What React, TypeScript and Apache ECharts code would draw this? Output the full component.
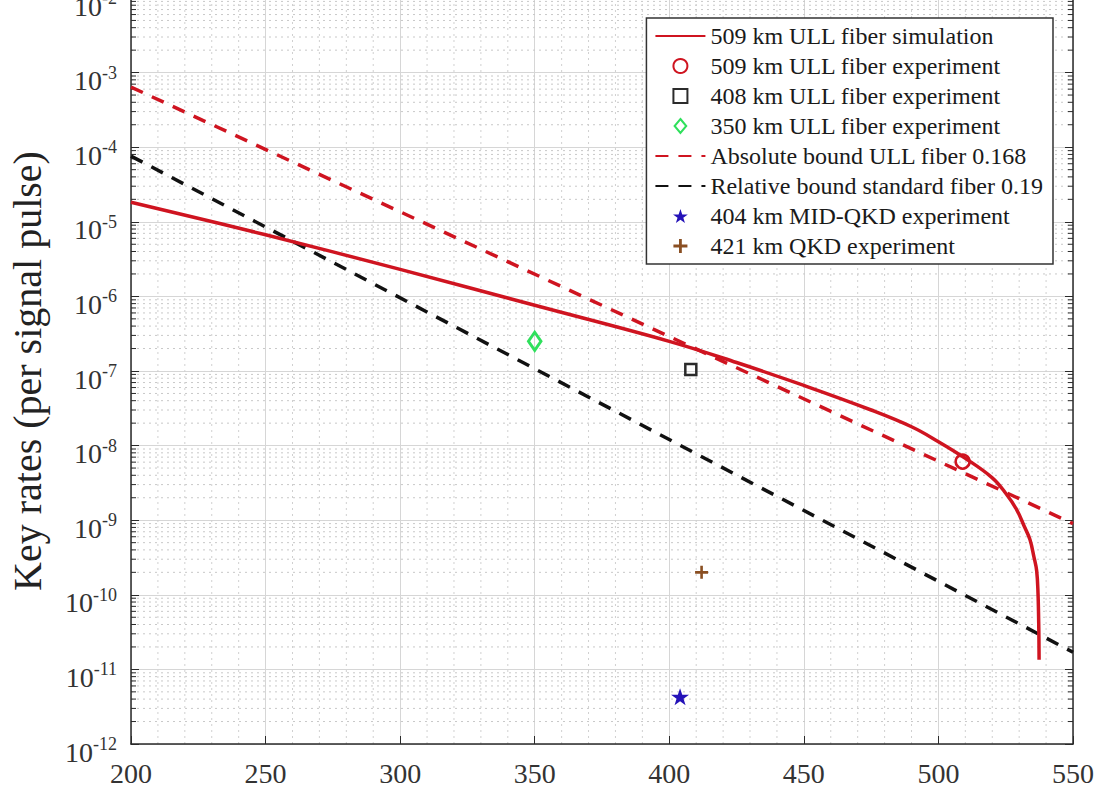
import React, { useEffect, useRef } from 'react';
import * as echarts from 'echarts';

// ---- data ----
const simDistance = [200, 250, 300, 350, 400, 425, 450, 475, 490, 500, 510, 520, 525, 529, 532, 534, 535.5, 536.5, 537, 537.3, 537.4];
const simRate = [1.83e-5, 6.7e-6, 2.3e-6, 7.6e-7, 2.5e-7, 1.3e-7, 6.4e-8, 3.0e-8, 1.79e-8, 1.13e-8, 6.75e-9, 3.7e-9, 2.3e-9, 1.4e-9, 8.1e-10, 5.5e-10, 3.2e-10, 2.1e-10, 1.05e-10, 3.4e-11, 1.35e-11];

const absBoundDistance = [200, 550];
const absBoundRate = [6.4e-4, 9.0e-10];

const relBoundDistance = [200, 550];
const relBoundRate = [7.6e-5, 1.7e-11];

const exp509 = [[509, 6.1e-9]];
const exp408 = [[408, 1.05e-7]];
const exp350 = [[350, 2.5e-7]];
const midQkd404 = [[404, 4.3e-12]];
const qkd421 = [[412, 2.0e-10]];

const legendNames = [
  '509 km ULL fiber simulation',
  '509 km ULL fiber experiment',
  '408 km ULL fiber experiment',
  '350 km ULL fiber experiment',
  'Absolute bound ULL fiber 0.168',
  'Relative bound standard fiber 0.19',
  '404 km MID-QKD experiment',
  '421 km QKD experiment',
];

const X_MIN = 200;
const X_MAX = 550;
const Y_MIN = 1e-12;
const Y_MAX = 1e-2;

const FONT = '"Liberation Serif", "Times New Roman", serif';

const STAR = 'path://M50,0 L61.8,35.1 L98.1,35.1 L68.8,56.7 L79.4,91 L50,70 L20.6,91 L31.2,56.7 L1.9,35.1 L38.2,35.1 Z';
const PLUS = 'path://M4,0H6V4H10V6H6V10H4V6H0V4H4Z';
const SQUARE = 'path://M0,0H10V10H0Z';
const DIAMOND = 'path://M5,0L10,6L5,12L0,6Z';

// minor grid positions (2..9 x each decade, every 10 km)
const yMinor: number[][] = [];
for (let e = -12; e < -2; e++) {
  for (let k = 2; k <= 9; k++) yMinor.push([X_MIN, k * Math.pow(10, e)]);
}
const xMinor: number[][] = [];
for (let d = X_MIN + 10; d < X_MAX; d += 10) {
  if (d % 50 !== 0) xMinor.push([d, Y_MIN]);
}

export default function App() {
  const ref = useRef<HTMLDivElement>(null);
  useEffect(() => {
    if (!ref.current) return;
    const chart = echarts.init(ref.current, undefined, { renderer: 'svg' });
    const red = '#cf1420';
    const zip = (a: number[], b: number[]) => a.map((v, i) => [v, b[i]]);
    const lineLegend = (name: string) => ({ name, itemStyle: { opacity: 0 } });
    chart.setOption({
      animation: false,
      backgroundColor: '#ffffff',
      grid: { left: 131, right: 31, top: -2, bottom: 49, containLabel: false, outerBoundsMode: 'none' },
      legend: {
        data: [
          lineLegend(legendNames[0]),
          { name: legendNames[1] },
          { name: legendNames[2] },
          { name: legendNames[3] },
          lineLegend(legendNames[4]),
          lineLegend(legendNames[5]),
          { name: legendNames[6] },
          { name: legendNames[7] },
        ],
        orient: 'vertical',
        right: 51,
        top: 18,
        padding: [6, 10, 6, 8],
        itemWidth: 50,
        itemHeight: 14,
        itemGap: 6,
        symbolKeepAspect: true,
        backgroundColor: '#ffffff',
        borderColor: '#333333',
        borderWidth: 1.5,
        borderRadius: 0,
        textStyle: { fontFamily: FONT, fontSize: 24, color: '#1a1a1a' },
        selectedMode: false,
      },
      xAxis: [
        {
          type: 'value',
          min: X_MIN,
          max: X_MAX,
          interval: 50,
          axisLine: { show: true, onZero: false, lineStyle: { color: '#2a2a2a', width: 1.5 } },
          axisTick: { show: true, inside: true, length: 8, lineStyle: { color: '#2a2a2a' } },
          axisLabel: { fontFamily: FONT, fontSize: 28, color: '#333', margin: 15 },
          splitLine: { show: true, lineStyle: { color: '#d6d6d6', width: 1 } },
        },
      ],
      yAxis: [
        {
          type: 'log',
          logBase: 10,
          min: Y_MIN,
          max: Y_MAX,
          splitNumber: 10,
          axisLine: { show: true, onZero: false, lineStyle: { color: '#2a2a2a', width: 1.5 } },
          axisTick: { show: true, inside: true, length: 8, lineStyle: { color: '#2a2a2a' } },
          axisLabel: {
            margin: 14,
            formatter: (v: number) => `{b|10}{s|${Math.round(Math.log10(v))}}`,
            rich: {
              b: { fontFamily: FONT, fontSize: 28, color: '#333', padding: [16, 0, 0, 0] },
              s: { fontFamily: FONT, fontSize: 18, color: '#333' },
            },
          },
          splitLine: { show: true, lineStyle: { color: '#d6d6d6', width: 1 } },
          name: 'Key rates (per signal pulse)',
          nameLocation: 'middle',
          nameRotate: 90,
          nameGap: 84,
          nameTextStyle: { fontFamily: FONT, fontSize: 40, color: '#222' },
        },
        {
          type: 'log',
          logBase: 10,
          min: Y_MIN,
          max: Y_MAX,
          splitNumber: 10,
          position: 'right',
          axisLine: { show: true, onZero: false, lineStyle: { color: '#2a2a2a', width: 1.5 } },
          axisTick: { show: true, inside: true, length: 8, lineStyle: { color: '#2a2a2a' } },
          axisLabel: { show: false },
          splitLine: { show: false },
        },
      ],
      series: [
        {
          type: 'custom',
          name: 'yMinorGrid',
          silent: true,
          z: 0,
          data: yMinor,
          renderItem: (params: any, api: any) => {
            const v = api.value(1);
            const p0 = api.coord([X_MIN, v]);
            const p1 = api.coord([X_MAX, v]);
            return {
              type: 'group',
              children: [
                { type: 'line', shape: { x1: p0[0], y1: p0[1], x2: p1[0], y2: p1[1] }, style: { stroke: '#c8c8c8', lineWidth: 1, lineDash: [2, 4] } },
                { type: 'line', shape: { x1: p0[0], y1: p0[1], x2: p0[0] + 5, y2: p0[1] }, style: { stroke: '#2a2a2a', lineWidth: 1 } },
                { type: 'line', shape: { x1: p1[0] - 5, y1: p1[1], x2: p1[0], y2: p1[1] }, style: { stroke: '#2a2a2a', lineWidth: 1 } },
              ],
            };
          },
        },
        {
          type: 'custom',
          name: 'xMinorGrid',
          silent: true,
          z: 0,
          data: xMinor,
          renderItem: (params: any, api: any) => {
            const d = api.value(0);
            const p0 = api.coord([d, Y_MIN]);
            const p1 = api.coord([d, Y_MAX]);
            return {
              type: 'line',
              shape: { x1: p0[0], y1: p0[1], x2: p1[0], y2: p1[1] },
              style: { stroke: '#d0d0d0', lineWidth: 1, lineDash: [2, 4] },
            };
          },
        },
        {
          name: legendNames[0],
          type: 'line',
          data: zip(simDistance, simRate),
          showSymbol: false,
          symbol: 'none',
          smooth: 0.4,
          lineStyle: { color: red, width: 3.5 },
          itemStyle: { color: red },
          z: 5,
        },
        {
          name: legendNames[1],
          type: 'scatter',
          data: exp509,
          symbol: 'circle',
          symbolSize: 14,
          itemStyle: { color: 'rgba(255,255,255,0)', borderColor: red, borderWidth: 2.5, opacity: 1 },
          z: 6,
        },
        {
          name: legendNames[2],
          type: 'scatter',
          data: exp408,
          symbol: SQUARE,
          symbolSize: 11,
          symbolKeepAspect: true,
          itemStyle: { color: 'rgba(255,255,255,0)', borderColor: '#2b2b2b', borderWidth: 2.5, opacity: 1 },
          z: 6,
        },
        {
          name: legendNames[3],
          type: 'scatter',
          data: exp350,
          symbol: DIAMOND,
          symbolSize: [15, 18],
          symbolKeepAspect: true,
          itemStyle: { color: 'rgba(255,255,255,0)', borderColor: '#2fe05c', borderWidth: 3, opacity: 1 },
          z: 6,
        },
        {
          name: legendNames[4],
          type: 'line',
          data: zip(absBoundDistance, absBoundRate),
          showSymbol: false,
          symbol: 'none',
          lineStyle: { color: red, width: 3.5, type: [13, 10] },
          itemStyle: { color: red },
          z: 4,
        },
        {
          name: legendNames[5],
          type: 'line',
          data: zip(relBoundDistance, relBoundRate),
          showSymbol: false,
          symbol: 'none',
          lineStyle: { color: '#111111', width: 3.5, type: [13, 10] },
          itemStyle: { color: '#111111' },
          z: 4,
        },
        {
          name: legendNames[6],
          type: 'scatter',
          data: midQkd404,
          symbol: STAR,
          symbolSize: 18,
          symbolKeepAspect: true,
          itemStyle: { color: '#2412b8', opacity: 1 },
          z: 6,
        },
        {
          name: legendNames[7],
          type: 'scatter',
          data: qkd421,
          symbol: PLUS,
          symbolSize: 13,
          symbolKeepAspect: true,
          itemStyle: { color: '#8a4f22', opacity: 1 },
          z: 6,
        },
      ],
    });
    return () => chart.dispose();
  }, []);
  return (
    <div
      ref={ref}
      style={{ position: 'fixed', left: 0, top: 0, width: 1104, height: 793, background: '#fff' }}
    />
  );
}
